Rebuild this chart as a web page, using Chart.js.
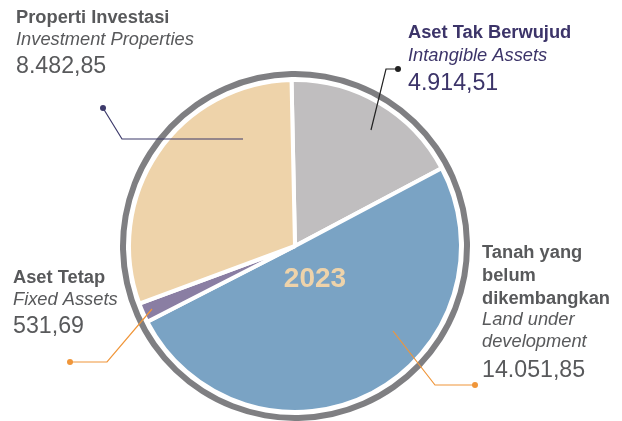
<!DOCTYPE html>
<html>
<head>
<meta charset="utf-8">
<script src="https://cdn.jsdelivr.net/npm/chart.js@4.4.1/dist/chart.umd.min.js"></script>
<style>
  html, body { margin: 0; padding: 0; background: #ffffff; }
  #wrap { position: relative; width: 622px; height: 421px; }
</style>
</head>
<body>
<div id="wrap"><canvas id="c" width="622" height="421"></canvas></div>
<script>
// Asset composition 2023 (order: clockwise from the top)
const categoriesId = ['Aset Tak Berwujud', 'Tanah yang belum dikembangkan', 'Aset Tetap', 'Properti Investasi'];
const categoriesEn = ['Intangible Assets', 'Land under development', 'Fixed Assets', 'Investment Properties'];
const values = [4914.51, 14051.85, 531.69, 8482.85];
const sliceColors = ['#c0bebf', '#7aa3c4', '#8a7ea3', '#eed3aa'];
const yearLabel = '2023';

// Indonesian number format: 14051.85 -> "14.051,85"
function fmtId(v) {
  const parts = v.toFixed(2).split('.');
  const intPart = parts[0].replace(/\B(?=(\d{3})+(?!\d))/g, '.');
  return intPart + ',' + parts[1];
}

const GREY = '#58595b';
const NAVY = '#3c3469';
const FONT = '"Liberation Sans", Arial, Helvetica, sans-serif';

// Callout blocks: text lines, placement and leader line path (last point gets the dot)
const callouts = [
  { idx: 3, x: 16, color: GREY,
    lines: [['Properti Investasi', 'bold', 18.3, 23], ['Investment Properties', 'italic', 18.3, 45], ['V', 'normal', 23.2, 73]],
    leader: { color: '#3d3a6b', pts: [[243, 139], [122, 139], [103, 108]] } },
  { idx: 0, x: 408, color: NAVY,
    lines: [['Aset Tak Berwujud', 'bold', 18.3, 38], ['Intangible Assets', 'italic', 18.3, 61], ['V', 'normal', 23.2, 90]],
    leader: { color: '#222222', pts: [[371, 130], [386, 69], [398, 69]] } },
  { idx: 2, x: 13, color: GREY,
    lines: [['Aset Tetap', 'bold', 18.3, 283], ['Fixed Assets', 'italic', 18.3, 305], ['V', 'normal', 23.2, 333]],
    leader: { color: '#f0963a', pts: [[152, 309], [107, 362], [70, 362]] } },
  { idx: 1, x: 482, color: GREY,
    lines: [['Tanah yang', 'bold', 18.3, 258], ['belum', 'bold', 18.3, 281], ['dikembangkan', 'bold', 18.3, 304],
            ['Land under', 'italic', 18.3, 325], ['development', 'italic', 18.3, 347], ['V', 'normal', 23.2, 377]],
    leader: { color: '#f0963a', pts: [[393, 331], [435, 385], [475, 385]] } }
];

const annotations = {
  id: 'annotations',
  afterDatasetsDraw(chart) {
    const ctx = chart.ctx;
    const pieMeta = chart.getDatasetMeta(2);
    const arc0 = pieMeta.data[0];
    ctx.save();
    // year in the middle
    ctx.fillStyle = '#eed3aa';
    ctx.font = 'bold 28px ' + FONT;
    ctx.textAlign = 'center';
    ctx.textBaseline = 'alphabetic';
    ctx.fillText(yearLabel, arc0.x + 20, arc0.y + 41);

    // leader lines
    callouts.forEach(c => {
      const p = c.leader.pts;
      ctx.strokeStyle = c.leader.color;
      ctx.lineWidth = 1.2;
      ctx.beginPath();
      ctx.moveTo(p[0][0], p[0][1]);
      for (let i = 1; i < p.length; i++) ctx.lineTo(p[i][0], p[i][1]);
      ctx.stroke();
      const last = p[p.length - 1];
      ctx.fillStyle = c.leader.color;
      ctx.beginPath();
      ctx.arc(last[0], last[1], 3, 0, Math.PI * 2);
      ctx.fill();
    });

    // callout texts
    ctx.textAlign = 'left';
    callouts.forEach(c => {
      ctx.fillStyle = c.color;
      c.lines.forEach(([txt, style, size, y]) => {
        const s = txt === 'V' ? fmtId(values[c.idx]) : txt;
        const w = style === 'bold' ? 'bold ' : (style === 'italic' ? 'italic ' : '');
        ctx.font = w + size + 'px ' + FONT;
        ctx.fillText(s, c.x, y);
      });
    });
    ctx.restore();
  }
};

new Chart(document.getElementById('c'), {
  type: 'pie',
  data: {
    labels: categoriesId,
    datasets: [
      { data: [1], backgroundColor: ['#7f7f82'], borderWidth: 0, weight: 6 },
      { data: [1], backgroundColor: ['rgba(255,255,255,0)'], borderWidth: 0, weight: 3 },
      { data: values, backgroundColor: sliceColors, borderColor: '#ffffff', borderWidth: 4, weight: 166 }
    ]
  },
  options: {
    responsive: false,
    animation: false,
    events: [],
    rotation: -1.2,
    radius: 175,
    layout: { padding: { left: 0, right: 32, top: 71, bottom: 0 } },
    plugins: { legend: { display: false }, tooltip: { enabled: false } }
  },
  plugins: [annotations]
});
</script>
</body>
</html>
